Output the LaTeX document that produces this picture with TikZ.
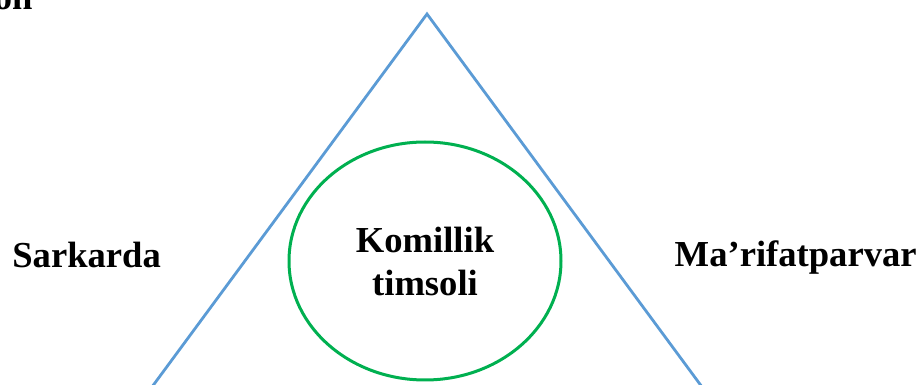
\documentclass[tikz,border=0pt]{standalone}
\usepackage{fontspec}
\setmainfont{Liberation Serif}
\usetikzlibrary{shapes.geometric}
\definecolor{triB}{RGB}{91,155,213}
\definecolor{circG}{RGB}{0,176,80}

\begin{document}
\begin{tikzpicture}[x=0.5pt,y=-0.5pt,
  lbl/.style={font=\bfseries\fontsize{18.3}{21.5}\selectfont,inner sep=0pt}]
\useasboundingbox (0,0) rectangle (923,385);
\clip (0,0) rectangle (923,385);
% the triangle
\coordinate (apex) at (427,14);
\coordinate (baseL) at (149,391);
\coordinate (baseR) at (705,391);
\draw[triB,line width=1.4pt] (baseL)--(apex)--(baseR);
% circle in the middle
\node[ellipse,draw=circG,line width=1.5pt,minimum width=136pt,minimum height=119pt,lbl,align=center] (core) at (425,261) {Komillik\\timsoli};
% side labels
\node[lbl,anchor=base west] (sark) at (12,268) {Sarkarda};
\node[lbl,anchor=base east] (marif) at (917,267) {Ma’rifatparvar};
\node[lbl,anchor=base east] (topw) at (33,10) {on};
\end{tikzpicture}
\end{document}
